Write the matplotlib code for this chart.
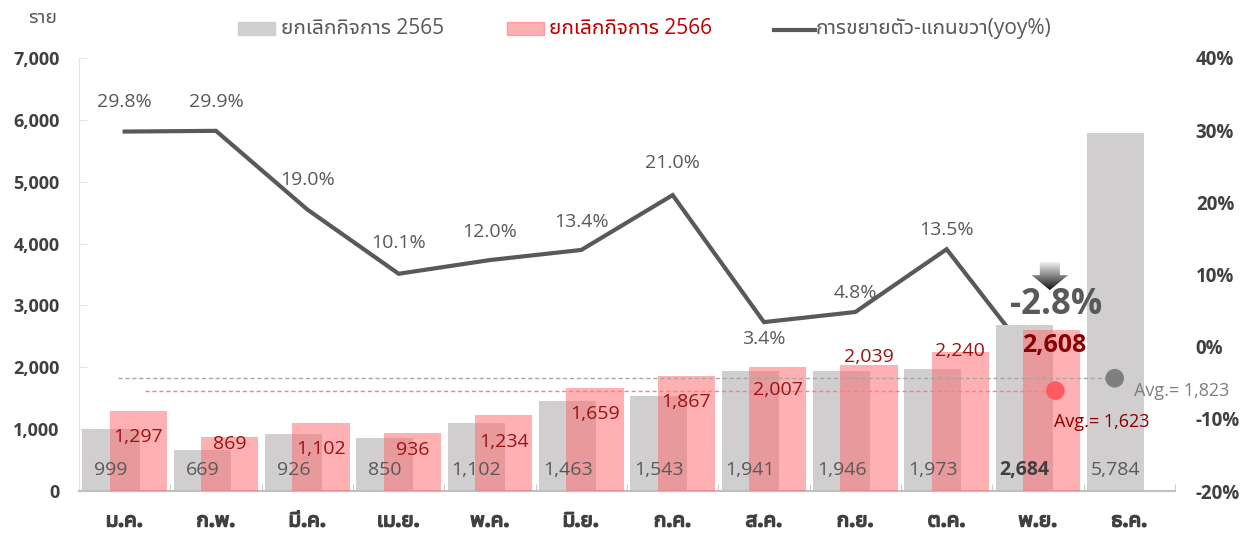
import numpy as np
import matplotlib
matplotlib.use('Agg')
import matplotlib.pyplot as plt
import matplotlib.patheffects as pe
from matplotlib.patches import Polygon, Rectangle
from matplotlib.lines import Line2D

plt.rcParams['font.family'] = ['Open Sans', 'Noto Sans Thai UI', 'DejaVu Sans']

# ข้อมูล
months = ['ม.ค.', 'ก.พ.', 'มี.ค.', 'เม.ย.', 'พ.ค.', 'มิ.ย.',
          'ก.ค.', 'ส.ค.', 'ก.ย.', 'ต.ค.', 'พ.ย.', 'ธ.ค.']
close_2565 = [999, 669, 926, 850, 1102, 1463, 1543, 1941, 1946, 1973, 2684, 5784]
close_2566 = [1297, 869, 1102, 936, 1234, 1659, 1867, 2007, 2039, 2240, 2608]
yoy = [29.8, 29.9, 19.0, 10.1, 12.0, 13.4, 21.0, 3.4, 4.8, 13.5, -2.8]
avg_2565 = 1823
avg_2566 = 1623

GRAY = '#D0CECE'
PINK = '#FF6A6F'
LINE = '#595959'
DARKRED = '#9A1212'
TXT = '#404040'

fig = plt.figure(figsize=(12.44, 5.4), dpi=100)
ax = fig.add_axes([0.0635, 0.0907, 0.881, 0.802])
ax2 = ax.twinx()

x = np.arange(len(months))
x66 = np.arange(len(close_2566))
w = 0.625
off = 0.15

ax.bar(x - off, close_2565, width=w, color=GRAY, zorder=2)
ax.bar(x66 + off, close_2566, width=w, color=PINK, alpha=0.53, zorder=3)

# ป้ายค่าแท่ง
for i, v in enumerate(close_2565):
    bold = i == 10
    ax.text(i - off, 340, f'{v:,}', ha='center', va='center', fontsize=14,
            color='#404040' if bold else '#595959',
            fontweight='bold' if bold else 'normal', zorder=5)

lab_y66 = [870, 760, 680, 660, 790, 1245, 1440, 1630, 2160, 2270, 2350]
for i, v in enumerate(close_2566):
    if i == 10:
        ax.text(i + off + 0.03, lab_y66[i], f'{v:,}', ha='center', va='center',
                fontsize=18, fontweight='bold', color='#8B0000', zorder=6)
    else:
        ax.text(i + off, lab_y66[i], f'{v:,}', ha='center', va='center',
                fontsize=14, color=DARKRED, zorder=5)

# เส้นค่าเฉลี่ย
ax.plot([-0.07, 10.84], [avg_2565, avg_2565], ls=(0, (3, 2)), lw=1, color='#A6A6A6', zorder=4)
ax.plot([0.22, 10.19], [avg_2566, avg_2566], ls=(0, (3, 2)), lw=1, color='#FF7C80', zorder=4)
ax.scatter([10.84], [avg_2565], s=180, color='#7F7F7F', zorder=6, edgecolor='none')
ax.scatter([10.19], [avg_2566], s=180, color='#FF5A5F', zorder=6, edgecolor='none')
ax.text(11.05, 1615, f'Avg.= {avg_2565:,}', fontsize=13, color='#7F7F7F', va='center')
ax.text(10.18, 1115, f'Avg.= {avg_2566:,}', fontsize=13, color='#8B0000', va='center', ha='left')

# เส้นการขยายตัว
ax2.plot(np.arange(len(yoy)), yoy, color=LINE, lw=3, solid_joinstyle='miter', zorder=5)
offs = [21, 21, 21, 22, 20, 20, 23, -12, 14, 14]
for i, v in enumerate(yoy[:-1]):
    ax2.annotate(f'{v:.1f}%', (i, v), xytext=(0, offs[i]), textcoords='offset points',
                 ha='center', va='center', fontsize=14, color='#595959')
# ค่าล่าสุด วาดบนแกนซ้ายเพื่อให้อยู่เหนือแท่ง
ax.text(10.2, 3000, f'{yoy[-1]:.1f}%', ha='center', va='center', fontsize=25,
        fontweight='bold', color='#595959', zorder=8)

# ลูกศรไล่เฉด
ax.set_zorder(ax2.get_zorder() + 1)
ax.patch.set_visible(False)
arrow = Polygon([[10.02, 3700], [10.24, 3700], [10.24, 3490], [10.33, 3490],
                 [10.13, 3247], [9.93, 3490], [10.02, 3490]], closed=True,
                facecolor='none', edgecolor='none', transform=ax.transData)
ax.add_patch(arrow)
grad = np.linspace(0.97, 0.05, 100).reshape(-1, 1)
im = ax.imshow(grad, cmap='gray', vmin=0, vmax=1, aspect='auto',
               extent=[9.9, 10.36, 3240, 3710], origin='upper', zorder=7)
im.set_clip_path(arrow)

# แกน
ax.set_xlim(-0.5, 11.5)
ax.set_ylim(0, 7000)
ax2.set_ylim(-20, 40)
ax.set_yticks(range(0, 7001, 1000))
ax.set_yticklabels([f'{v:,}' for v in range(0, 7001, 1000)], fontweight='bold')
ax2.set_yticks(range(-20, 41, 10))
ax2.set_yticklabels([f'{v}%' for v in range(-20, 41, 10)], fontweight='bold')
ax.set_xticks(x)
ax.set_xticklabels(months, fontweight='bold')
ax.set_xticks(np.arange(-0.5, 12, 1), minor=True)
# ฟอนต์ไทยไม่มีตัวหนา ใช้เส้นขอบช่วย
for t in ax.get_xticklabels():
    t.set_path_effects([pe.withStroke(linewidth=1.1, foreground=TXT)])

for a in (ax, ax2):
    for s in ('top', 'right'):
        a.spines[s].set_visible(False)
ax2.spines['left'].set_visible(False)
ax2.spines['bottom'].set_visible(False)
ax.spines['left'].set_color('#E4E4E4')
ax.spines['bottom'].set_color('#BFBFBF')
ax.spines['bottom'].set_linewidth(1.5)

ax.tick_params(axis='y', direction='in', length=6, color='#E4E4E4', pad=14,
               labelsize=13, labelcolor=TXT)
ax.tick_params(axis='x', which='major', length=0, pad=14, labelsize=15, labelcolor=TXT)
ax.tick_params(axis='x', which='minor', direction='in', length=5, color='#BFBFBF')
ax2.tick_params(axis='y', length=0, pad=15, labelsize=13.5, labelcolor=TXT)

# หน่วยและคำอธิบาย
fig.text(28 / 1244, 1 - 18 / 540, 'ราย', fontsize=14, color='#595959', va='center')
fig.patches.append(Rectangle((238 / 1244, 1 - 35 / 540), 37 / 1244, 13 / 540,
                             transform=fig.transFigure, color=GRAY))
fig.text(281 / 1244, 1 - 28 / 540, 'ยกเลิกกิจการ 2565', fontsize=15, color='#595959', va='center')
fig.patches.append(Rectangle((507 / 1244, 1 - 35 / 540), 37 / 1244, 13 / 540,
                             transform=fig.transFigure, color=PINK, alpha=0.53))
fig.text(549 / 1244, 1 - 28 / 540, 'ยกเลิกกิจการ 2566', fontsize=15, color='#C00000', va='center')
fig.lines.append(Line2D([774 / 1244, 815 / 1244], [1 - 30 / 540, 1 - 30 / 540],
                        transform=fig.transFigure, color=LINE, lw=3))
fig.text(816 / 1244, 1 - 28 / 540, 'การขยายตัว-แกนขวา(yoy%)', fontsize=15, color='#595959', va='center')

fig.savefig('out.png', dpi=100)
